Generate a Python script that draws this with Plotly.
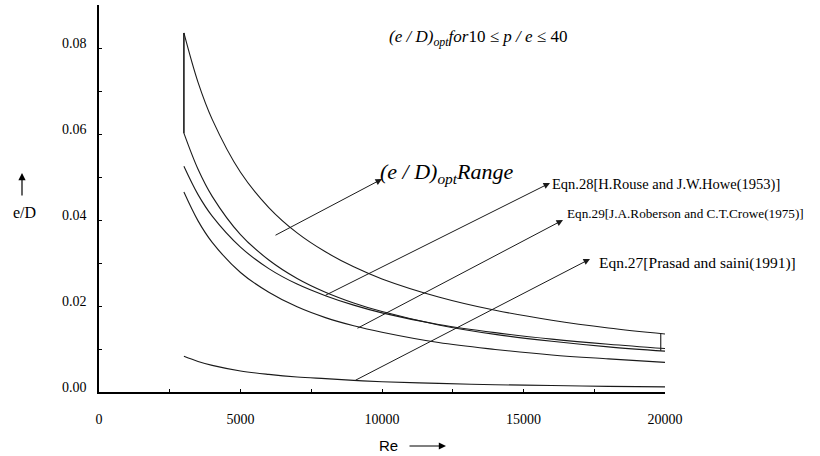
import plotly.graph_objects as go

# ---- data ----
re_vals = [3000, 3500, 4000, 5000, 6000, 7000, 8000, 9000, 10000, 12000, 14000, 16000, 18000, 20000]
opt_upper = [0.0835, 0.0720, 0.0634, 0.0511, 0.0429, 0.0370, 0.0326, 0.0291, 0.0263, 0.0221, 0.0190, 0.0167, 0.0149, 0.0135]
opt_lower = [0.0602, 0.0518, 0.0455, 0.0366, 0.0307, 0.0264, 0.0232, 0.0207, 0.0187, 0.0156, 0.0134, 0.0118, 0.0105, 0.0095]
eqn28 = [0.0525, 0.0459, 0.0409, 0.0337, 0.0287, 0.0251, 0.0224, 0.0202, 0.0184, 0.0157, 0.0138, 0.0123, 0.0111, 0.0101]
eqn29 = [0.0465, 0.0398, 0.0348, 0.0278, 0.0232, 0.0198, 0.0173, 0.0154, 0.0139, 0.0115, 0.0099, 0.0086, 0.0077, 0.0069]
eqn27 = [0.0083, 0.0071, 0.0062, 0.0049, 0.0041, 0.0035, 0.0031, 0.0027, 0.0024, 0.0020, 0.0017, 0.0015, 0.0013, 0.0012]

# closing bars of the optimum range band
band_left_re = [3000, 3000]
band_left_val = [0.0835, 0.0602]
band_right_re = [19850, 19850]
band_right_val = [0.0136, 0.0096]

x_ticks = [0, 5000, 10000, 15000, 20000]
y_ticks = [0.00, 0.02, 0.04, 0.06, 0.08]

SERIF = "Liberation Serif, Times New Roman, serif"
SANS = "Liberation Sans, Arial, sans-serif"
LINE = "#1a1a1a"

fig = go.Figure()
for ys in [opt_upper, opt_lower, eqn28, eqn29, eqn27]:
    fig.add_trace(go.Scatter(x=re_vals, y=ys, mode="lines",
                             line=dict(color=LINE, width=1.1, shape="spline"),
                             showlegend=False, hoverinfo="skip"))
fig.add_trace(go.Scatter(x=band_left_re, y=band_left_val, mode="lines",
                         line=dict(color=LINE, width=1.6), showlegend=False))
fig.add_trace(go.Scatter(x=band_right_re, y=band_right_val, mode="lines",
                         line=dict(color=LINE, width=1.1), showlegend=False))

def px2x(px):
    return (px - 99) / 566 * 20000

def px2y(py):
    return (392 - py) / 4300

annotations = []
# arrows: (tail px, head px)
arrows = [((274, 236), (382, 179)),
          ((324, 296), (550, 183)),
          ((356, 329), (563, 220)),
          ((354, 381), (590, 259))]
for (tx, ty), (hx, hy) in arrows:
    annotations.append(dict(x=px2x(hx), y=px2y(hy), ax=px2x(tx), ay=px2y(ty),
                            xref="x", yref="y", axref="x", ayref="y",
                            text="", showarrow=True, arrowhead=2, arrowsize=1.3,
                            arrowwidth=1, arrowcolor=LINE))

labels = [
    ("<i>(e / D)<sub>opt</sub>Range</i>", 378, 173, 22),
    ("Eqn.28[H.Rouse and J.W.Howe(1953)]", 550, 184, 14.5),
    ("Eqn.29[J.A.Roberson and C.T.Crowe(1975)]", 565, 213, 13.2),
    ("Eqn.27[Prasad and saini(1991)]", 597, 263, 15.5),
]
for txt, lx, ly, fs in labels:
    annotations.append(dict(x=px2x(lx), y=px2y(ly), xref="x", yref="y",
                            text=txt, showarrow=False, xanchor="left", yanchor="middle",
                            font=dict(family=SERIF, size=fs, color="black")))

annotations.append(dict(x=px2x(478), y=px2y(38), xref="x", yref="y",
                        text="<i>(e / D)<sub>opt</sub>for</i>10 ≤ <i>p / e</i> ≤ 40",
                        showarrow=False, xanchor="center", yanchor="middle",
                        font=dict(family=SERIF, size=17, color="black")))

# axis titles with arrows
annotations.append(dict(x=(24-99)/566, y=(392-213)/387, xref="paper", yref="paper",
                        text="e/D", showarrow=False, xanchor="center", yanchor="middle",
                        font=dict(family=SERIF, size=16, color="black")))
annotations.append(dict(x=(22-99)/566, y=(392-173)/387, xref="paper", yref="paper",
                        ax=0, ay=24, text="", showarrow=True, arrowhead=2,
                        arrowsize=1.2, arrowwidth=1.2, arrowcolor="black"))
annotations.append(dict(x=(400-99)/566, y=-(445-392)/387, xref="paper", yref="paper",
                        text="Re", showarrow=False, xanchor="right", yanchor="middle",
                        font=dict(family=SANS, size=15, color="black")))
annotations.append(dict(x=(446-99)/566, y=-(446-392)/387, xref="paper", yref="paper",
                        ax=-38, ay=0, text="", showarrow=True, arrowhead=2,
                        arrowsize=1.2, arrowwidth=1.2, arrowcolor="black"))

fig.update_layout(
    width=820, height=456,
    margin=dict(l=99, r=155, t=5, b=64),
    paper_bgcolor="white", plot_bgcolor="white",
    annotations=annotations,
    showlegend=False,
)
fig.update_xaxes(range=[0, 20000], tickvals=x_ticks, ticktext=[str(v) for v in x_ticks],
                 showline=True, linecolor="black", linewidth=1.6, showgrid=False, zeroline=False,
                 ticks="inside", ticklen=3, tickcolor="black", ticklabelstandoff=13,
                 minor=dict(dtick=2500, tick0=0, ticks="inside", ticklen=3, tickcolor="black", showgrid=False),
                 tickfont=dict(family=SERIF, size=14, color="black"))
fig.update_yaxes(range=[0, 0.09], tickvals=y_ticks, ticktext=[f"{v:.2f}" for v in y_ticks],
                 showline=True, linecolor="black", linewidth=1.6, showgrid=False, zeroline=False,
                 ticks="inside", ticklen=3, tickcolor="black", ticklabelstandoff=8,
                 ticklabelshift=-5,
                 minor=dict(dtick=0.01, tick0=0, ticks="inside", ticklen=3, tickcolor="black", showgrid=False),
                 tickfont=dict(family=SERIF, size=14, color="black"))

fig.write_html("out.html")
